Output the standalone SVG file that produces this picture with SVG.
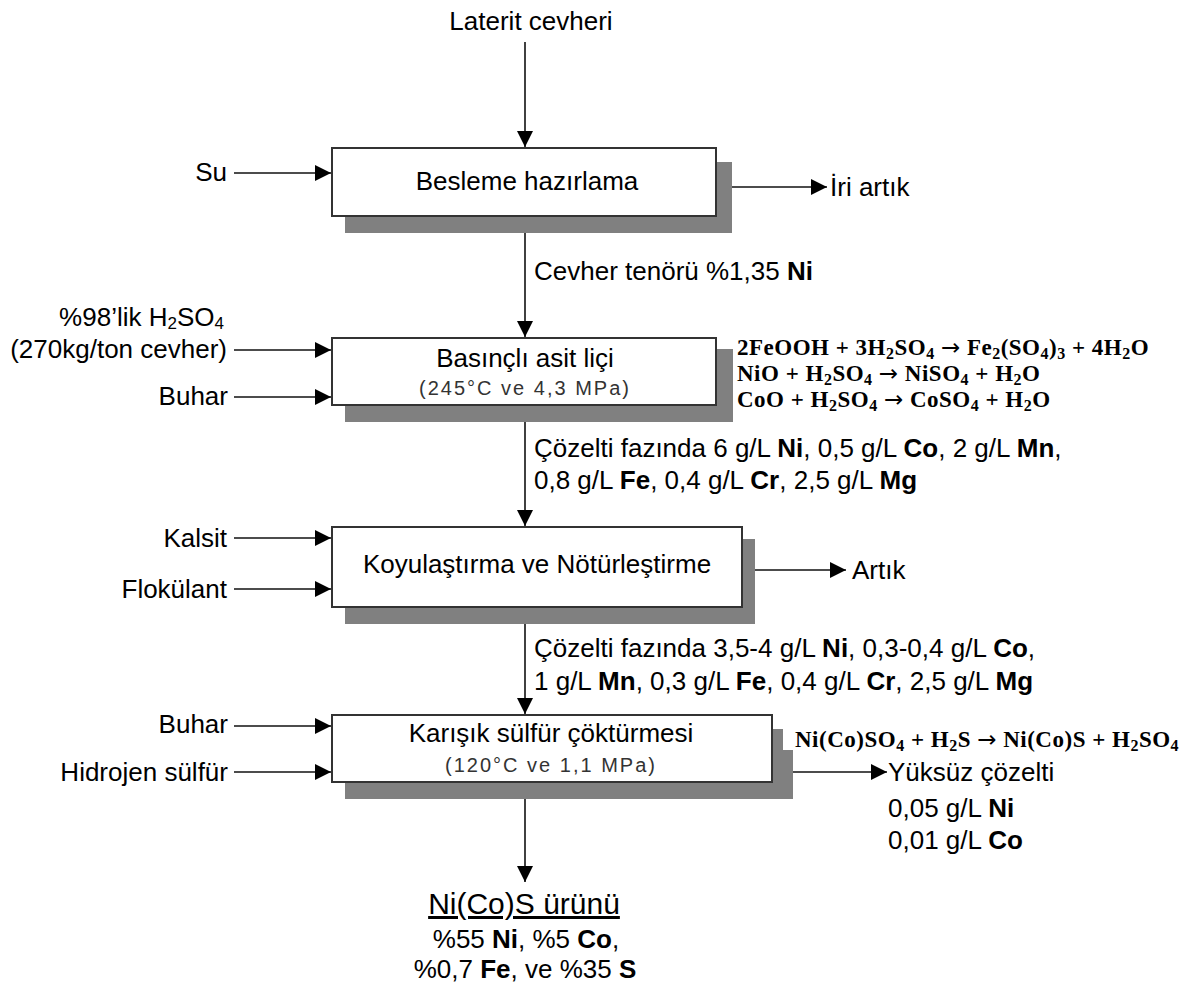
<svg xmlns="http://www.w3.org/2000/svg" width="1192" height="985" viewBox="0 0 1192 985">
<style>
.t{font-family:"Liberation Sans",Arial,sans-serif;font-size:26px;fill:#000}
.b{font-weight:bold}
.c{text-anchor:middle}
.e{text-anchor:end}
.lt{font-family:"Liberation Sans",Arial,sans-serif;font-size:20px;fill:#333;letter-spacing:2px;text-anchor:middle}
.eq{font-family:"Liberation Serif","Times New Roman",serif;font-size:23px;font-weight:bold;fill:#000;letter-spacing:0.5px}
.s{font-size:16px}
.ar{font-family:"DejaVu Sans",sans-serif;font-weight:normal;font-size:23px}
.box{fill:#fff;stroke:#333;stroke-width:2}
.sh{fill:#808080}
.ln{stroke:#111;stroke-width:1.6;fill:none;marker-end:url(#ah)}
</style>
<defs>
<marker id="ah" markerUnits="userSpaceOnUse" markerWidth="17" markerHeight="17" refX="16" refY="8" orient="auto">
<path d="M0,0 L16,8 L0,16 z" fill="#000"/>
</marker>
</defs>
<rect width="1192" height="985" fill="#fff"/>
<g id="connectors">
<line class="ln" x1="525" y1="42" x2="525" y2="147"/>
<line class="ln" x1="525" y1="233" x2="525" y2="337"/>
<line class="ln" x1="525" y1="422" x2="525" y2="526"/>
<line class="ln" x1="525" y1="624" x2="525" y2="714"/>
<line class="ln" x1="525" y1="799" x2="525" y2="882"/>
<line class="ln" x1="234" y1="173" x2="331" y2="173"/>
<line class="ln" x1="234" y1="350" x2="331" y2="350"/>
<line class="ln" x1="234" y1="397" x2="331" y2="397"/>
<line class="ln" x1="234" y1="538" x2="331" y2="538"/>
<line class="ln" x1="234" y1="589" x2="331" y2="589"/>
<line class="ln" x1="234" y1="726" x2="331" y2="726"/>
<line class="ln" x1="234" y1="772" x2="331" y2="772"/>
<line class="ln" x1="732" y1="187" x2="827" y2="187"/>
<line class="ln" x1="755" y1="570" x2="846" y2="570"/>
<line class="ln" x1="793" y1="772" x2="887" y2="772"/>
</g>
<g id="input-laterit"><text class="t c" x="531" y="30">Laterit cevheri</text></g>
<g id="input-su"><text class="t e" x="227" y="181">Su</text></g>
<g id="node-besleme">
<rect class="sh" x="345" y="162" width="387" height="71"/>
<rect class="box" x="332" y="148" width="384" height="68"/>
<text class="t c" x="527" y="190">Besleme hazırlama</text>
</g>
<g id="output-iri"><text class="t" x="830" y="196">İri artık</text></g>
<g id="label-tenor"><text class="t" x="534" y="280">Cevher tenörü %1,35 <tspan class="b">Ni</tspan></text></g>
<g id="input-h2so4">
<text class="t e" x="224" y="326">%98’lik H<tspan font-size="17" dy="3">2</tspan><tspan dy="-3">SO</tspan><tspan font-size="17" dy="3">4</tspan></text>
<text class="t e" x="227" y="358">(270kg/ton cevher)</text>
</g>
<g id="input-buhar1"><text class="t e" x="228" y="405">Buhar</text></g>
<g id="node-basincli">
<rect class="sh" x="345" y="349" width="388" height="73"/>
<rect class="box" x="332" y="338" width="384" height="67"/>
<text class="t c" x="525" y="367">Basınçlı asit liçi</text>
<text class="lt" x="525" y="395">(245°C ve 4,3 MPa)</text>
</g>
<g id="eq-leach">
<text class="eq" x="737" y="355">2FeOOH + 3H<tspan class="s" dy="4">2</tspan><tspan dy="-4">SO</tspan><tspan class="s" dy="4">4</tspan><tspan dy="-4"> </tspan><tspan class="ar">→</tspan><tspan> Fe</tspan><tspan class="s" dy="4">2</tspan><tspan dy="-4">(SO</tspan><tspan class="s" dy="4">4</tspan><tspan dy="-4">)</tspan><tspan class="s" dy="4">3</tspan><tspan dy="-4"> + 4H</tspan><tspan class="s" dy="4">2</tspan><tspan dy="-4">O</tspan></text>
<text class="eq" x="737" y="381">NiO + H<tspan class="s" dy="4">2</tspan><tspan dy="-4">SO</tspan><tspan class="s" dy="4">4</tspan><tspan dy="-4"> </tspan><tspan class="ar">→</tspan><tspan> NiSO</tspan><tspan class="s" dy="4">4</tspan><tspan dy="-4"> + H</tspan><tspan class="s" dy="4">2</tspan><tspan dy="-4">O</tspan></text>
<text class="eq" x="737" y="407">CoO + H<tspan class="s" dy="4">2</tspan><tspan dy="-4">SO</tspan><tspan class="s" dy="4">4</tspan><tspan dy="-4"> </tspan><tspan class="ar">→</tspan><tspan> CoSO</tspan><tspan class="s" dy="4">4</tspan><tspan dy="-4"> + H</tspan><tspan class="s" dy="4">2</tspan><tspan dy="-4">O</tspan></text>
</g>
<g id="label-solution1">
<text class="t" x="534" y="457">Çözelti fazında 6 g/L <tspan class="b">Ni</tspan>, 0,5 g/L <tspan class="b">Co</tspan>, 2 g/L <tspan class="b">Mn</tspan>,</text>
<text class="t" x="534" y="489">0,8 g/L <tspan class="b">Fe</tspan>, 0,4 g/L <tspan class="b">Cr</tspan>, 2,5 g/L <tspan class="b">Mg</tspan></text>
</g>
<g id="input-kalsit"><text class="t e" x="227" y="547">Kalsit</text></g>
<g id="input-flokulant"><text class="t e" x="227" y="598">Flokülant</text></g>
<g id="node-koyulastirma">
<rect class="sh" x="345" y="539" width="410" height="85"/>
<rect class="box" x="332" y="527" width="410" height="80"/>
<text class="t c" x="537" y="573">Koyulaştırma ve Nötürleştirme</text>
</g>
<g id="output-artik"><text class="t" x="852" y="579">Artık</text></g>
<g id="label-solution2">
<text class="t" x="534" y="657">Çözelti fazında 3,5-4 g/L <tspan class="b">Ni</tspan>, 0,3-0,4 g/L <tspan class="b">Co</tspan>,</text>
<text class="t" x="534" y="690">1 g/L <tspan class="b">Mn</tspan>, 0,3 g/L <tspan class="b">Fe</tspan>, 0,4 g/L <tspan class="b">Cr</tspan>, 2,5 g/L <tspan class="b">Mg</tspan></text>
</g>
<g id="input-buhar2"><text class="t e" x="228" y="733">Buhar</text></g>
<g id="input-h2s"><text class="t e" x="228" y="781">Hidrojen sülfür</text></g>
<g id="node-karisik">
<polygon class="sh" points="345,729 783,729 783,750 793,750 793,799 345,799"/>
<rect class="box" x="332" y="715" width="440" height="67"/>
<text class="t c" x="551" y="742">Karışık sülfür çöktürmesi</text>
<text class="lt" x="551" y="772">(120°C ve 1,1 MPa)</text>
</g>
<g id="eq-sulfide">
<text class="eq" x="795" y="747">Ni(Co)SO<tspan class="s" dy="4">4</tspan><tspan dy="-4"> + H</tspan><tspan class="s" dy="4">2</tspan><tspan dy="-4">S </tspan><tspan class="ar">→</tspan><tspan> Ni(Co)S + H</tspan><tspan class="s" dy="4">2</tspan><tspan dy="-4">SO</tspan><tspan class="s" dy="4">4</tspan></text>
</g>
<g id="output-yuksuz">
<text class="t" x="888" y="781">Yüksüz çözelti</text>
<text class="t" x="888" y="817">0,05 g/L <tspan class="b">Ni</tspan></text>
<text class="t" x="888" y="849">0,01 g/L <tspan class="b">Co</tspan></text>
</g>
<g id="product">
<text class="t c" x="524" y="914" text-decoration="underline" style="font-size:30px">Ni(Co)S ürünü</text>
<text class="t c" x="526" y="948">%55 <tspan class="b">Ni</tspan>, %5 <tspan class="b">Co</tspan>,</text>
<text class="t c" x="525" y="978">%0,7 <tspan class="b">Fe</tspan>, ve %35 <tspan class="b">S</tspan></text>
</g>
</svg>
